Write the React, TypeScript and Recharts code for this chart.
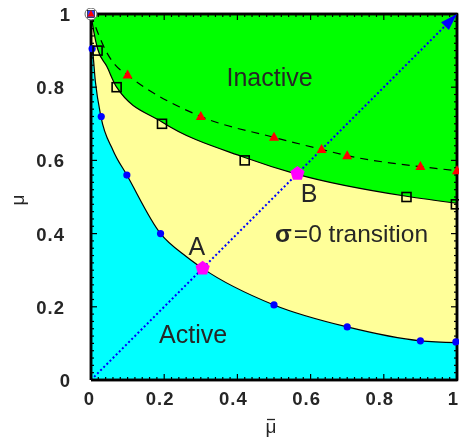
import React from 'react';
import {
  ComposedChart,
  Area,
  Line,
  Scatter,
  XAxis,
  YAxis,
  ReferenceDot,
  ReferenceLine,
} from 'recharts';

// Boundary between the active (cyan) and the sigma=0 transition (yellow) region
const activeBoundary = [
  { x: 0, y: 0.91 },
  { x: 0.004, y: 0.9 },
  { x: 0.012, y: 0.815 },
  { x: 0.027, y: 0.72 },
  { x: 0.06, y: 0.628 },
  { x: 0.098, y: 0.56 },
  { x: 0.19, y: 0.4 },
  { x: 0.261, y: 0.337 },
  { x: 0.305, y: 0.305 },
  { x: 0.5, y: 0.205 },
  { x: 0.7, y: 0.145 },
  { x: 0.9, y: 0.107 },
  { x: 1, y: 0.102 },
];

// Simulated points on the active boundary
const activePoints = [
  { x: 0.003, y: 0.905 },
  { x: 0.028, y: 0.72 },
  { x: 0.098, y: 0.56 },
  { x: 0.19, y: 0.4 },
  { x: 0.5, y: 0.205 },
  { x: 0.7, y: 0.145 },
  { x: 0.9, y: 0.107 },
  { x: 0.997, y: 0.104 },
];

// Boundary between the transition (yellow) and inactive (green) region
const inactiveBoundary = [
  { x: 0, y: 1 },
  { x: 0.008, y: 0.95 },
  { x: 0.018, y: 0.905 },
  { x: 0.043, y: 0.857 },
  { x: 0.07, y: 0.8 },
  { x: 0.194, y: 0.705 },
  { x: 0.42, y: 0.608 },
  { x: 0.564, y: 0.562 },
  { x: 0.862, y: 0.502 },
  { x: 1, y: 0.483 },
];

// Simulated points on the inactive boundary
const inactivePoints = [
  { x: 0.018, y: 0.9 },
  { x: 0.07, y: 0.8 },
  { x: 0.194, y: 0.7 },
  { x: 0.42, y: 0.6 },
  { x: 0.862, y: 0.5 },
  { x: 0.997, y: 0.48 },
];

// Dashed estimate curve
const dashedCurve = [
  { x: 0, y: 1 },
  { x: 0.019, y: 0.948 },
  { x: 0.044, y: 0.893 },
  { x: 0.066, y: 0.861 },
  { x: 0.1, y: 0.833 },
  { x: 0.3, y: 0.72 },
  { x: 0.5, y: 0.663 },
  { x: 0.63, y: 0.63 },
  { x: 0.7, y: 0.613 },
  { x: 0.9, y: 0.583 },
  { x: 1, y: 0.572 },
];

const trianglePoints = [
  { x: 0.1, y: 0.833 },
  { x: 0.3, y: 0.72 },
  { x: 0.5, y: 0.663 },
  { x: 0.63, y: 0.63 },
  { x: 0.7, y: 0.613 },
  { x: 0.9, y: 0.583 },
  { x: 1, y: 0.572 },
];

const diagonal = [
  { x: 0, y: 0 },
  { x: 1, y: 1 },
];
const arrowTip = [{ x: 1, y: 1 }];
const specialPoints = [
  { x: 0.305, y: 0.305 },
  { x: 0.564, y: 0.564 },
];
const originMarker = [{ x: 0, y: 1 }];
const fullTop = [
  { x: 0, y: 1 },
  { x: 1, y: 1 },
];

const majorTicks = [0, 0.2, 0.4, 0.6, 0.8, 1];
const minorTicks = Array.from({ length: 51 }, (_, i) => (i * 2) / 100);
const isMajor = (v: number) => Math.round(v * 50) % 10 === 0;

// inward tick marks on all four sides of the box, in axis units
const PX = 1 / 366;
const tickSegments = minorTicks.flatMap((t) => {
  const L = (isMajor(t) ? 6 : 3) * PX;
  return [
    [{ x: t, y: 0 }, { x: t, y: L }],
    [{ x: t, y: 1 }, { x: t, y: 1 - L }],
    [{ x: 0, y: t }, { x: L, y: t }],
    [{ x: 1, y: t }, { x: 1 - L, y: t }],
  ];
});
const frameSides = [
  [{ x: 0, y: 0 }, { x: 1, y: 0 }],
  [{ x: 1, y: 0 }, { x: 1, y: 1 }],
  [{ x: 1, y: 1 }, { x: 0, y: 1 }],
  [{ x: 0, y: 1 }, { x: 0, y: 0 }],
];
const frameLoop = [
  { x: 0, y: 0 },
  { x: 1, y: 0 },
  { x: 1, y: 1 },
  { x: 0, y: 1 },
  { x: 0, y: 0 },
];

const FONT = '"Liberation Sans", Arial, sans-serif';
const TEXT = '#262626';
const TOP = 1500;

const XTick = (p: any) => {
  const v = p.payload.value;
  const dx = v === 1 ? -3.5 : v === 0 ? -1.5 : -4;
  return (
    <text x={p.x + dx} y={p.y + 25} textAnchor="middle" fontFamily={FONT} fontWeight="bold" fontSize={18.5} letterSpacing={1} fill={TEXT}>
      {String(v)}
    </text>
  );
};

const YTick = (p: any) => {
  const v = p.payload.value;
  const whole = v === 0 || v === 1;
  return (
    <text x={p.x - (whole ? 20 : 26)} y={p.y + 7} textAnchor="end" fontFamily={FONT} fontWeight="bold" fontSize={18.5} letterSpacing={1} fill={TEXT}>
      {String(v)}
    </text>
  );
};

const Pentagon = (p: any) => {
  const r = 7.5;
  const pts = Array.from({ length: 5 }, (_, i) => {
    const a = -Math.PI / 2 + (i * 2 * Math.PI) / 5;
    return `${p.cx + r * Math.cos(a)},${p.cy + r * Math.sin(a)}`;
  }).join(' ');
  return <polygon points={pts} fill="#ff00ff" />;
};

const Arrow = (p: any) => {
  const len = 17;
  const hw = 5.5;
  const d = Math.SQRT1_2;
  const bx = p.cx - len * d;
  const by = p.cy + len * d;
  return (
    <polygon
      points={`${p.cx},${p.cy} ${bx - hw * d},${by - hw * d} ${bx + hw * d},${by + hw * d}`}
      fill="#0000ff"
    />
  );
};

const Triangle = (p: any) => (
  <polygon points={`${p.cx},${p.cy - 5.5} ${p.cx - 5},${p.cy + 3.5} ${p.cx + 5},${p.cy + 3.5}`} fill="#ff0000" />
);

const OpenSquare = (p: any) => (
  <rect x={p.cx - 4.5} y={p.cy - 4.5} width={9} height={9} fill="none" stroke="#000" strokeWidth={1.6} />
);

const BlueDot = (p: any) => <circle cx={p.cx} cy={p.cy} r={3.6} fill="#0000ff" />;

const OriginMarker = (p: any) => (
  <g>
    <circle cx={p.cx} cy={p.cy} r={6} fill="#fff" stroke="#666" strokeWidth={1} />
    <rect x={p.cx - 3.5} y={p.cy - 3.5} width={7} height={7} fill="#3040ff" stroke="#000" strokeWidth={0.6} />
    <polygon points={`${p.cx},${p.cy - 4} ${p.cx - 3.5},${p.cy + 2.5} ${p.cx + 3.5},${p.cy + 2.5}`} fill="#ff0000" />
  </g>
);

const textLabel = (content: React.ReactNode, anchor: 'start' | 'middle' = 'middle', size = 25) => (p: any) => (
  <text x={p.cx} y={p.cy} textAnchor={anchor} fontFamily={FONT} fontSize={size} fill={TEXT}>
    {content}
  </text>
);

export default function App() {
  return (
    <div style={{ position: 'fixed', left: 8, top: 8 }}>
      <ComposedChart width={451} height={434} margin={{ top: 6, right: 2, left: 0, bottom: 0 }}>
        {/* region fills: inactive, transition, active */}
        <Area data={fullTop} dataKey="y" type="linear" fill="#00ff00" fillOpacity={1} stroke="none" isAnimationActive={false} />
        <Area data={inactiveBoundary} dataKey="y" type="monotone" fill="#ffff99" fillOpacity={1} stroke="#000" strokeWidth={1.2} isAnimationActive={false} />
        <Area data={activeBoundary} dataKey="y" type="monotone" fill="#00ffff" fillOpacity={1} stroke="#000" strokeWidth={1.2} isAnimationActive={false} />

        <Line data={dashedCurve} dataKey="y" type="monotone" stroke="#000" strokeWidth={1.2} strokeDasharray="8 6" dot={false} activeDot={false} isAnimationActive={false} />
        <Line data={diagonal} dataKey="y" type="linear" stroke="#0000ff" strokeWidth={2} strokeDasharray="2 2.4" dot={false} activeDot={false} isAnimationActive={false} />

        <XAxis
          type="number"
          dataKey="x"
          domain={[0, 1]}
          ticks={majorTicks}
          interval={0}
          axisLine={{ stroke: '#000', strokeWidth: 2 }}
          tickLine={false}
          tickSize={0}
          tickMargin={0}
          height={62}
          tick={XTick}
          label={{
            content: () => (
              <g>
                <text x={263} y={425} textAnchor="middle" fontFamily={FONT} fontSize={19} fill={TEXT}>
                  μ
                </text>
                <line x1={259} x2={267} y1={411.5} y2={411.5} stroke={TEXT} strokeWidth={1.3} />
              </g>
            ),
          }}
        />
        <YAxis
          type="number"
          dataKey="y"
          domain={[0, 1]}
          ticks={majorTicks}
          interval={0}
          axisLine={{ stroke: '#000', strokeWidth: 2 }}
          tickLine={false}
          tickSize={0}
          tickMargin={0}
          width={83}
          tick={YTick}
          label={{
            content: () => (
              <text x={16} y={192} transform="rotate(-90 16 192)" textAnchor="middle" fontFamily={FONT} fontSize={19} fill={TEXT}>
                μ
              </text>
            ),
          }}
        />

        {/* box frame with inward ticks */}
        {tickSegments.map((seg, i) => (
          <ReferenceLine key={`t${i}`} segment={seg} stroke="#000" strokeWidth={1.2} zIndex={TOP} />
        ))}
        {frameSides.map((seg, i) => (
          <ReferenceLine key={`f${i}`} segment={seg} stroke="#000" strokeWidth={2.5} zIndex={TOP} />
        ))}
        <Line data={frameLoop} dataKey="y" type="linear" stroke="#000" strokeWidth={2.5} dot={false} activeDot={false} isAnimationActive={false} zIndex={TOP} />

        <Scatter data={activePoints} dataKey="y" shape={BlueDot} isAnimationActive={false} zIndex={TOP + 10} />
        <Scatter data={inactivePoints} dataKey="y" shape={OpenSquare} isAnimationActive={false} zIndex={TOP + 10} />
        <Scatter data={trianglePoints} dataKey="y" shape={Triangle} isAnimationActive={false} zIndex={TOP + 10} />
        <Scatter data={originMarker} dataKey="y" shape={OriginMarker} isAnimationActive={false} zIndex={TOP + 10} />
        <Scatter data={arrowTip} dataKey="y" shape={Arrow} isAnimationActive={false} zIndex={TOP + 10} />
        <Scatter data={specialPoints} dataKey="y" shape={Pentagon} isAnimationActive={false} zIndex={TOP + 10} />

        <ReferenceDot x={0.488} y={0.803} ifOverflow="visible" shape={textLabel('Inactive')} />
        <ReferenceDot x={0.279} y={0.102} ifOverflow="visible" shape={textLabel('Active')} />
        <ReferenceDot x={0.289} y={0.3415} ifOverflow="visible" shape={textLabel('A')} />
        <ReferenceDot x={0.596} y={0.487} ifOverflow="visible" shape={textLabel('B')} />
        <ReferenceDot
          x={0.503}
          y={0.378}
          ifOverflow="visible"
          shape={textLabel(
            <>
              <tspan fontWeight="bold">σ</tspan>
              <tspan dx={2}>=0 transition</tspan>
            </>,
            'start',
            24.5
          )}
        />
      </ComposedChart>
    </div>
  );
}
